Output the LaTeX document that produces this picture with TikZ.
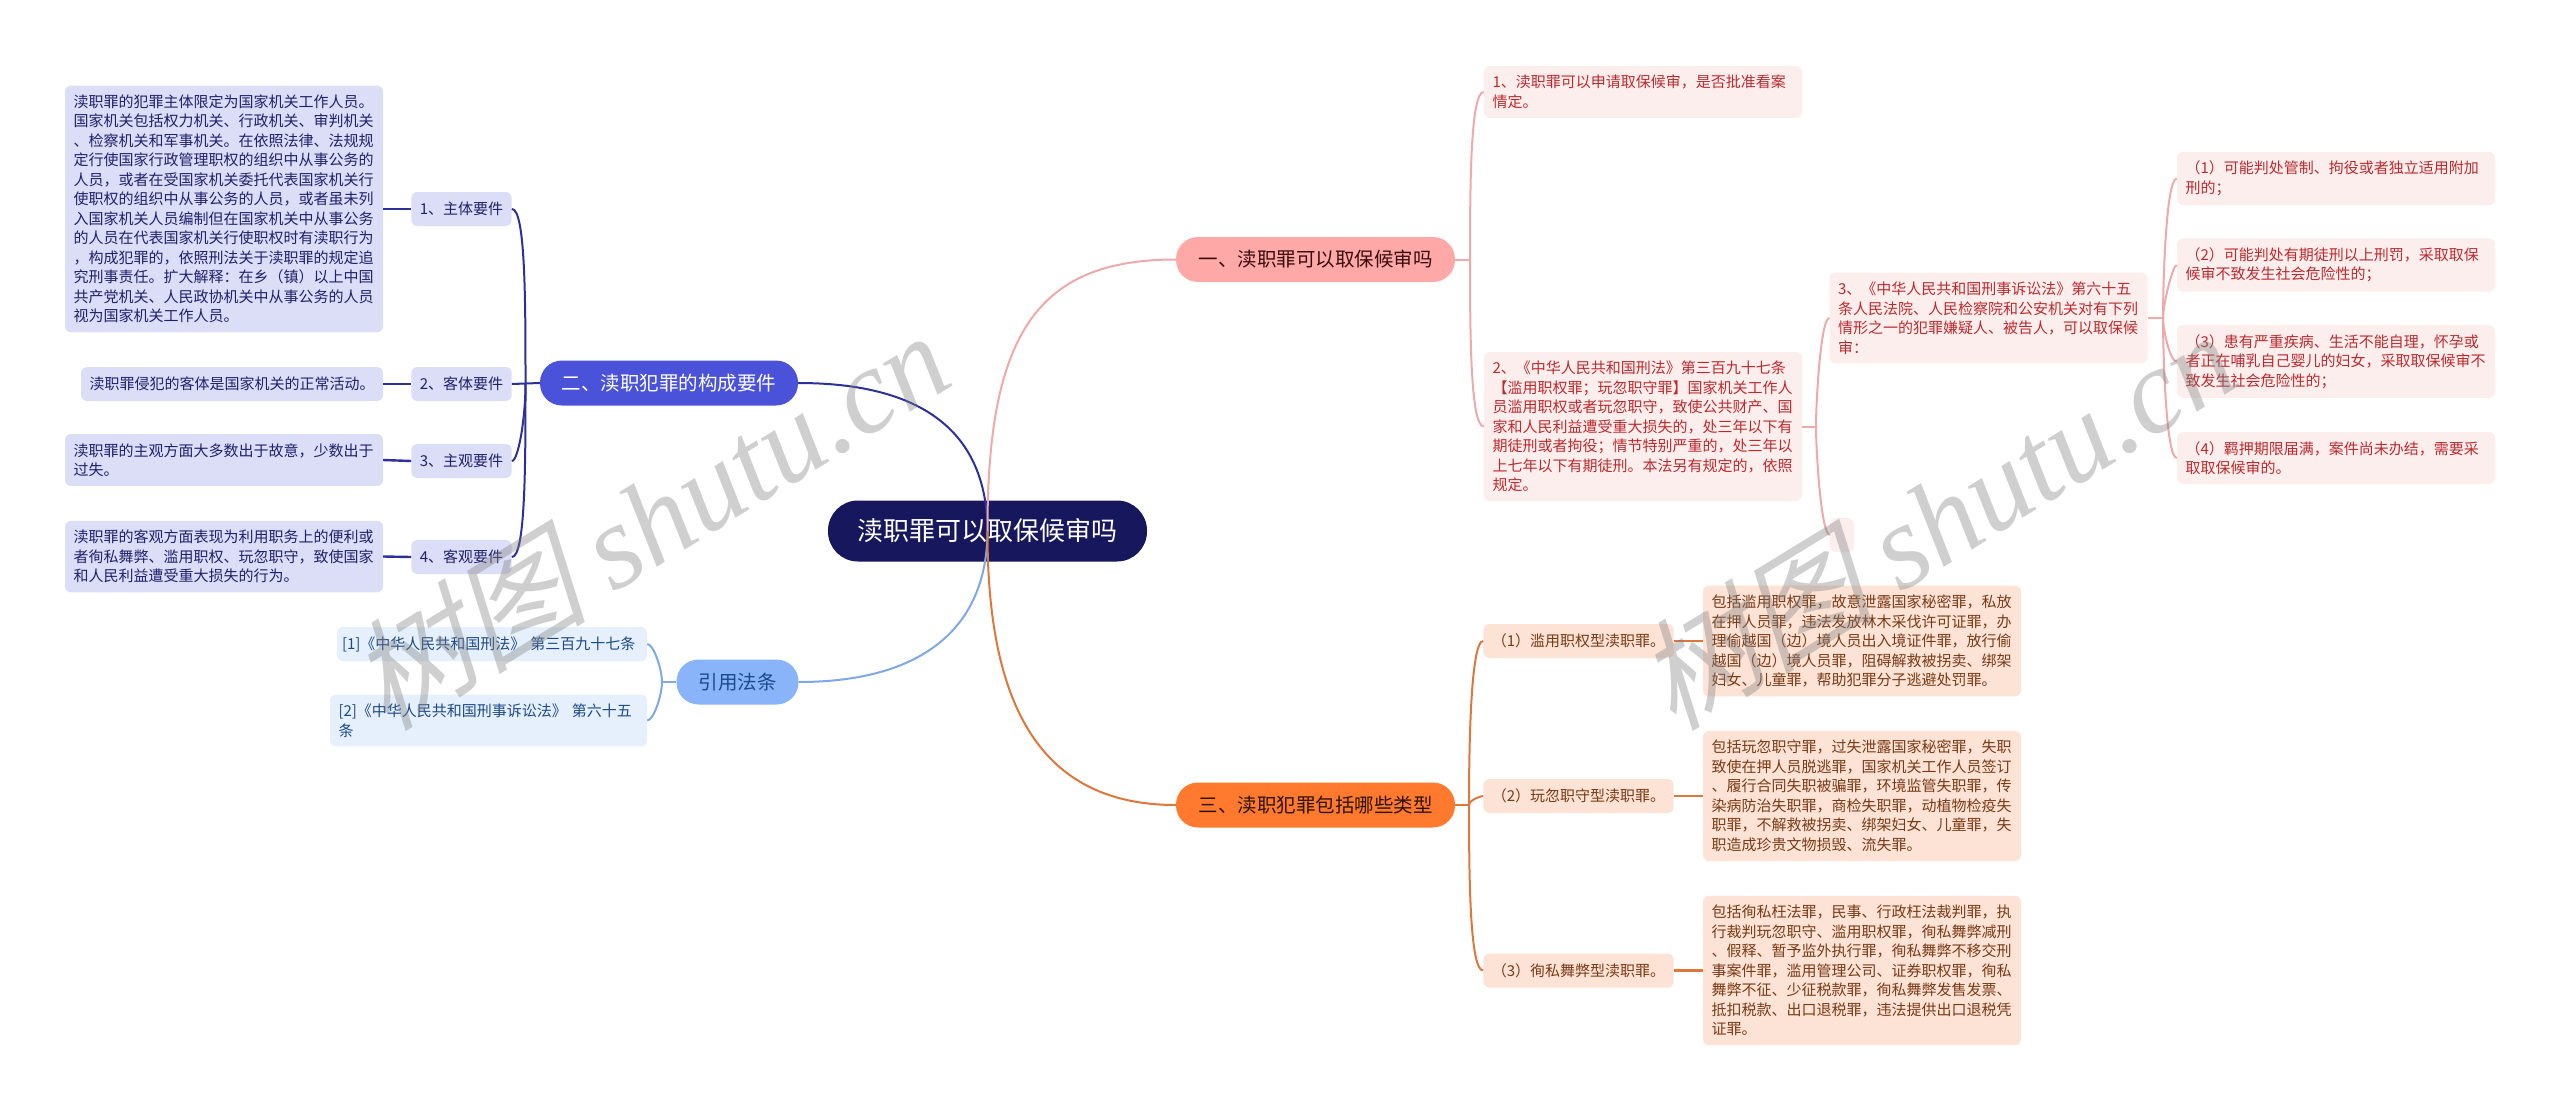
\documentclass[tikz,border=0pt]{standalone}
\usepackage{fontspec}
\setmainfont{Noto Sans CJK SC}
\newfontfamily\marksans[FakeSlant=0.25]{Noto Sans CJK SC}
\newfontfamily\markserif{Liberation Serif}
\usepackage[svgnames]{xcolor}
\definecolor{rootfill}{HTML}{17175E}
\definecolor{indigofill}{HTML}{4A52D9}
\definecolor{indigoline}{HTML}{2B309C}
\definecolor{indigosoft}{HTML}{DCDDF7}
\definecolor{indigotext}{HTML}{20206E}
\definecolor{rosefill}{HTML}{FFA8A8}
\definecolor{roseline}{HTML}{F0A8A8}
\definecolor{rosesoft}{HTML}{FDEEEE}
\definecolor{rosetext}{HTML}{BE2A2C}
\definecolor{orangefill}{HTML}{FF7A2E}
\definecolor{orangeline}{HTML}{DF763A}
\definecolor{orangesoft}{HTML}{FDE3D6}
\definecolor{orangetext}{HTML}{7A3A14}
\definecolor{skyfill}{HTML}{8AB4FA}
\definecolor{skyline}{HTML}{7EA8E6}
\definecolor{skysoft}{HTML}{E6F0FD}
\definecolor{skytext}{HTML}{1A4A8A}

\begin{document}
\begin{tikzpicture}[
  x=1pt,y=-1pt,
  every node/.style={inner xsep=8.5pt,inner ysep=9.25pt,align=left,font=\fontsize{15}{19.5}\selectfont},
  soft/.style={rounded corners=6pt,minimum height=34pt},
  indigo box/.style={soft,fill=indigosoft,text=indigotext},
  rose box/.style={soft,fill=rosesoft,text=rosetext},
  orange box/.style={soft,fill=orangesoft,text=orangetext},
  sky box/.style={soft,fill=skysoft,text=skytext},
  topic/.style={rounded corners=22pt,minimum height=45pt,align=center,font=\fontsize{19.5}{24}\selectfont},
  wire/.style={line width=2pt},
]
\useasboundingbox (0,0) rectangle (2560,1111);

\node[rounded corners=30pt,fill=rootfill,text=white,minimum width=319pt,minimum height=61pt,align=center,font=\fontsize{26}{30}\selectfont] (root) at (987.5,531) {渎职罪可以取保候审吗};

\node[topic,fill=indigofill,text=white,minimum width=258pt] (compose) at (669,383) {二、渎职犯罪的构成要件};
\node[topic,fill=skyfill,text=skytext,minimum width=122pt] (cite) at (737.5,682) {引用法条};
\node[topic,fill=rosefill,text=black!70!rosetext,minimum width=279pt] (bail) at (1315.5,259.5) {一、渎职罪可以取保候审吗};
\node[topic,fill=orangefill,text=black!65!orangetext,minimum width=279pt] (kinds) at (1315.5,805) {三、渎职犯罪包括哪些类型};

\node[indigo box,minimum width=99pt,align=center] (subject) at (461.5,209) {1、主体要件};
\node[indigo box,minimum width=99pt,align=center] (object) at (461.5,384) {2、客体要件};
\node[indigo box,minimum width=99pt,align=center] (mental) at (461.5,461) {3、主观要件};
\node[indigo box,minimum width=99pt,align=center] (conduct) at (461.5,557) {4、客观要件};

\node[indigo box,text width=301pt] (subjecttext) at (224,209) {渎职罪的犯罪主体限定为国家机关工作人员。\\国家机关包括权力机关、行政机关、审判机关\\、检察机关和军事机关。在依照法律、法规规\\定行使国家行政管理职权的组织中从事公务的\\人员，或者在受国家机关委托代表国家机关行\\使职权的组织中从事公务的人员，或者虽未列\\入国家机关人员编制但在国家机关中从事公务\\的人员在代表国家机关行使职权时有渎职行为\\，构成犯罪的，依照刑法关于渎职罪的规定追\\究刑事责任。扩大解释：在乡（镇）以上中国\\共产党机关、人民政协机关中从事公务的人员\\视为国家机关工作人员。};
\node[indigo box,text width=285pt] (objecttext) at (232,384) {渎职罪侵犯的客体是国家机关的正常活动。};
\node[indigo box,text width=301pt] (mentaltext) at (224,460) {渎职罪的主观方面大多数出于故意，少数出于\\过失。};
\node[indigo box,text width=301pt] (conducttext) at (224,556.5) {渎职罪的客观方面表现为利用职务上的便利或\\者徇私舞弊、滥用职权、玩忽职守，致使国家\\和人民利益遭受重大损失的行为。};

\node[sky box,inner xsep=5pt,text width=300pt] (citeone) at (492,644) {[1]《中华人民共和国刑法》 第三百九十七条};
\node[sky box,text width=300pt] (citetwo) at (488.5,720.5) {[2]《中华人民共和国刑事诉讼法》 第六十五\\条};

\node[rose box,text width=301pt] (ruleone) at (1643,92) {1、渎职罪可以申请取保候审，是否批准看案\\情定。};
\node[rose box,text width=301pt] (ruletwo) at (1643,426.5) {2、《中华人民共和国刑法》第三百九十七条\\【滥用职权罪；玩忽职守罪】国家机关工作人\\员滥用职权或者玩忽职守，致使公共财产、国\\家和人民利益遭受重大损失的，处三年以下有\\期徒刑或者拘役；情节特别严重的，处三年以\\上七年以下有期徒刑。本法另有规定的，依照\\规定。};
\node[rose box,text width=301pt] (rulethree) at (1988.5,318) {3、《中华人民共和国刑事诉讼法》第六十五\\条人民法院、人民检察院和公安机关对有下列\\情形之一的犯罪嫌疑人、被告人，可以取保候\\审：};
\node[rose box,inner xsep=0pt,minimum width=24pt] (ruleblank) at (1842,535) {};
\node[rose box,text width=301pt] (caseone) at (2336,178.5) {（1）可能判处管制、拘役或者独立适用附加\\刑的；};
\node[rose box,text width=301pt] (casetwo) at (2336,265) {（2）可能判处有期徒刑以上刑罚，采取取保\\候审不致发生社会危险性的；};
\node[rose box,text width=301pt] (casethree) at (2336,361.5) {（3）患有严重疾病、生活不能自理，怀孕或\\者正在哺乳自己婴儿的妇女，采取取保候审不\\致发生社会危险性的；};
\node[rose box,text width=301pt] (casefour) at (2336,458) {（4）羁押期限届满，案件尚未办结，需要采\\取取保候审的。};

\node[orange box,minimum width=189.5pt,align=center] (abuse) at (1578.5,641) {（1）滥用职权型渎职罪。};
\node[orange box,minimum width=189.5pt,align=center] (neglect) at (1578.5,796) {（2）玩忽职守型渎职罪。};
\node[orange box,minimum width=189.5pt,align=center] (favour) at (1578.5,970.5) {（3）徇私舞弊型渎职罪。};
\node[orange box,text width=301pt] (abusetext) at (1862,641) {包括滥用职权罪，故意泄露国家秘密罪，私放\\在押人员罪，违法发放林木采伐许可证罪，办\\理偷越国（边）境人员出入境证件罪，放行偷\\越国（边）境人员罪，阻碍解救被拐卖、绑架\\妇女、儿童罪，帮助犯罪分子逃避处罚罪。};
\node[orange box,text width=301pt] (neglecttext) at (1862,796) {包括玩忽职守罪，过失泄露国家秘密罪，失职\\致使在押人员脱逃罪，国家机关工作人员签订\\、履行合同失职被骗罪，环境监管失职罪，传\\染病防治失职罪，商检失职罪，动植物检疫失\\职罪，不解救被拐卖、绑架妇女、儿童罪，失\\职造成珍贵文物损毁、流失罪。};
\node[orange box,text width=301pt] (favourtext) at (1862,970.5) {包括徇私枉法罪，民事、行政枉法裁判罪，执\\行裁判玩忽职守、滥用职权罪，徇私舞弊减刑\\、假释、暂予监外执行罪，徇私舞弊不移交刑\\事案件罪，滥用管理公司、证券职权罪，徇私\\舞弊不征、少征税款罪，徇私舞弊发售发票、\\抵扣税款、出口退税罪，违法提供出口退税凭\\证罪。};

\coordinate (composestem) at (525.5,383);
\coordinate (citestem) at (662,682);
\coordinate (bailstem) at (1470,259.5);
\coordinate (ruletwostem) at (1816,426.5);
\coordinate (rulethreestem) at (2163,318);
\coordinate (kindsstem) at (1469,805);

\draw[wire,indigoline] (root.center) .. controls (987,430) and (920,383) .. (compose.east);
\draw[wire,skyline] (root.center) .. controls (987,630) and (920,682) .. (cite.east);
\draw[wire,roseline] (root.center) .. controls (987,330) and (1040,259.5) .. (bail.west);
\draw[wire,orangeline] (root.center) .. controls (987,720) and (1050,805) .. (kinds.west);

\foreach \a/\b in {subjecttext/subject,objecttext/object,mentaltext/mental,conducttext/conduct}
  \draw[wire,line width=2.4pt,indigoline] (\a.east) -- (\b.west);
\draw[wire,indigoline] (object.east) -- (compose.west);
\foreach \a in {subject}
  \draw[wire,indigoline] (\a.east) to[out=0,in=90,out looseness=.2,in looseness=1.2] (composestem);
\foreach \a in {mental,conduct}
  \draw[wire,indigoline] (\a.east) to[out=0,in=-90,out looseness=.2,in looseness=1.2] (composestem);

\draw[wire,skyline] (citestem) -- (cite.west);
\draw[wire,skyline] (citeone.east) to[out=0,in=90,out looseness=.4,in looseness=.8] (citestem);
\draw[wire,skyline] (citetwo.east) to[out=0,in=-90,out looseness=.4,in looseness=.8] (citestem);

\draw[wire,roseline] (bail.east) -- (bailstem);
\draw[wire,roseline] (ruleone.west) to[out=180,in=90,out looseness=.2,in looseness=1.2] (bailstem);
\draw[wire,roseline] (ruletwo.west) to[out=180,in=-90,out looseness=.2,in looseness=1.2] (bailstem);
\draw[wire,roseline] (ruletwo.east) -- (ruletwostem);
\draw[wire,roseline] (rulethree.west) to[out=180,in=90,out looseness=.2,in looseness=.6] (ruletwostem);
\draw[wire,roseline] (ruleblank.west) to[out=180,in=-90,out looseness=.2,in looseness=.6] (ruletwostem);
\draw[wire,roseline] (rulethree.east) -- (rulethreestem);
\foreach \a in {caseone,casetwo}
  \draw[wire,roseline] (\a.west) to[out=180,in=90,out looseness=.2,in looseness=.6] (rulethreestem);
\foreach \a in {casefour}
  \draw[wire,roseline] (\a.west) to[out=180,in=-90,out looseness=.2,in looseness=.6] (rulethreestem);
\draw[wire,roseline] (casethree.west) to[out=180,in=-90,out looseness=.4,in looseness=.6] (rulethreestem);

\draw[wire,orangeline] (kinds.east) -- (kindsstem);
\foreach \a in {abuse,neglect}
  \draw[wire,orangeline] (\a.west) to[out=180,in=90,out looseness=.2,in looseness=.8] (kindsstem);
\draw[wire,orangeline] (favour.west) to[out=180,in=-90,out looseness=.2,in looseness=1.2] (kindsstem);
\foreach \a/\b in {abuse/abusetext,neglect/neglecttext,favour/favourtext}
  \draw[wire,line width=2.4pt,orangeline] (\a.east) -- (\b.west);

\foreach \markname/\markx in {markleft/648,markright/1935}
  \node[rotate=31.5,inner xsep=0pt,text=Gray,text opacity=.38,font=\fontsize{120}{130}\selectfont] (\markname) at (\markx,519) {{\marksans 树图} {\markserif\itshape shutu.cn}};
\end{tikzpicture}
\end{document}
